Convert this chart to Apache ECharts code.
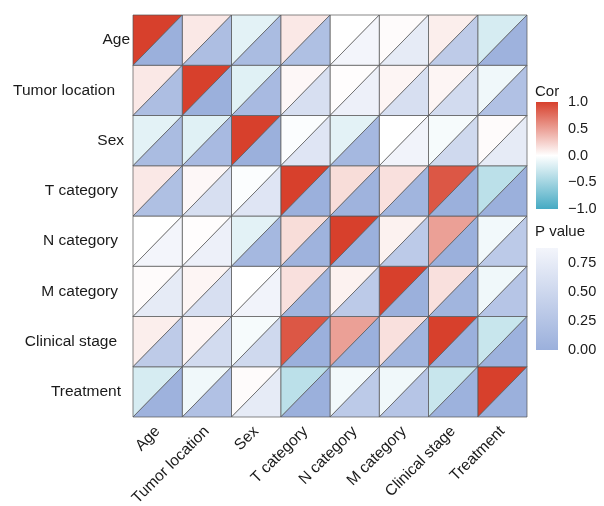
<!DOCTYPE html>
<html>
<head>
<meta charset="utf-8">
<script src="https://cdn.jsdelivr.net/npm/echarts@6/dist/echarts.min.js"></script>
<style>
  html, body { margin: 0; padding: 0; background: #fff; }
  #main { width: 604px; height: 506px; }
</style>
</head>
<body>
<div id="main"></div>
<script>
// variables, same order on both axes
var labels = ['Age', 'Tumor location', 'Sex', 'T category', 'N category', 'M category', 'Clinical stage', 'Treatment'];

// correlation (upper-left triangle)
var corAge       = [1, 0.12, -0.15, 0.12, 0.00, 0.02, 0.09, -0.22];
var corTumor     = [0.12, 1, -0.17, 0.04, 0.01, 0.05, 0.05, -0.08];
var corSex       = [-0.15, -0.17, 1, -0.02, -0.15, 0.00, -0.05, 0.02];
var corT         = [0.12, 0.04, -0.02, 1, 0.18, 0.16, 0.88, -0.37];
var corN         = [0.00, 0.01, -0.15, 0.18, 1, 0.07, 0.50, -0.07];
var corM         = [0.02, 0.05, 0.00, 0.16, 0.07, 1, 0.16, -0.08];
var corClinical  = [0.09, 0.05, -0.05, 0.88, 0.50, 0.16, 1, -0.30];
var corTreatment = [-0.22, -0.08, 0.02, -0.37, -0.07, -0.08, -0.30, 1];

// p value (lower-right triangle)
var pAge       = [0, 0.18, 0.15, 0.20, 0.88, 0.75, 0.35, 0.03];
var pTumor     = [0.18, 0, 0.13, 0.60, 0.82, 0.60, 0.55, 0.22];
var pSex       = [0.15, 0.13, 0, 0.68, 0.10, 0.86, 0.52, 0.75];
var pT         = [0.20, 0.60, 0.68, 0, 0.04, 0.06, 0, 0];
var pN         = [0.88, 0.82, 0.10, 0.04, 0, 0.33, 0, 0.33];
var pM         = [0.75, 0.60, 0.86, 0.06, 0.33, 0, 0.06, 0.27];
var pClinical  = [0.35, 0.55, 0.52, 0, 0, 0.06, 0, 0.02];
var pTreatment = [0.03, 0.22, 0.75, 0, 0.33, 0.27, 0.02, 0];

var corTicks = [-1, -0.5, 0, 0.5, 1];
var pTicks = [0, 0.25, 0.5, 0.75];
var pMax = 0.88;

var corRows = [corAge, corTumor, corSex, corT, corN, corM, corClinical, corTreatment];
var pRows = [pAge, pTumor, pSex, pT, pN, pM, pClinical, pTreatment];

var corData = [], pData = [];
for (var i = 0; i < labels.length; i++) {
    for (var j = 0; j < labels.length; j++) {
        corData.push([j, i, corRows[i][j]]);
        pData.push([j, i, pRows[i][j]]);
    }
}

var font = 'Liberation Sans, Arial, sans-serif';
var txt = '#1a1a1a';
var cellStroke = '#555555';

function cellBox(api) {
    var c = api.coord([api.value(0), api.value(1)]);
    var s = api.size([1, 1]);
    return { x0: c[0] - s[0] / 2, x1: c[0] + s[0] / 2, y0: c[1] - s[1] / 2, y1: c[1] + s[1] / 2 };
}

function renderCor(params, api) {
    var b = cellBox(api);
    return {
        type: 'polygon',
        shape: { points: [[b.x0, b.y0], [b.x1, b.y0], [b.x0, b.y1]] },
        style: { fill: api.visual('color'), stroke: cellStroke, lineWidth: 0.7 }
    };
}

function renderP(params, api) {
    var b = cellBox(api);
    return {
        type: 'polygon',
        shape: { points: [[b.x1, b.y0], [b.x1, b.y1], [b.x0, b.y1]] },
        style: { fill: api.visual('color'), stroke: cellStroke, lineWidth: 0.7 }
    };
}

// y labels in the original are not all flush right
var yPad = [0, 15, 6, 12, 12, 12, 13, 9];
var yRich = {};
yPad.forEach(function (p, k) {
    yRich['p' + k] = { padding: [0, p, 0, 0], fontSize: 15.5, color: txt, fontFamily: font };
});

var corGrad = new echarts.graphic.LinearGradient(0, 0, 0, 1, [
    { offset: 0, color: '#D7402C' },
    { offset: 0.5, color: '#FFFFFF' },
    { offset: 1, color: '#46AAC3' }
]);
var pGrad = new echarts.graphic.LinearGradient(0, 0, 0, 1, [
    { offset: 0, color: '#F3F5FB' },
    { offset: 1, color: '#9BB0DC' }
]);

var dom = document.getElementById('main');
var myChart = echarts.init(dom);
var option = {
    backgroundColor: '#fff',
    animation: false,
    textStyle: { fontFamily: font },
    title: [
        { text: 'Cor', left: 535, top: 84, padding: 0, textStyle: { fontSize: 15, fontWeight: 'normal', color: txt, fontFamily: font } },
        { text: 'P value', left: 535, top: 224, padding: 0, textStyle: { fontSize: 15, fontWeight: 'normal', color: txt, fontFamily: font } }
    ],
    grid: [
        { left: 133, top: 15, width: 394, height: 402, outerBoundsMode: 'none' },
        { left: 536, top: 102, width: 22, height: 107, show: true, backgroundColor: corGrad, borderWidth: 0, outerBoundsMode: 'none' },
        { left: 536, top: 248, width: 22, height: 102, show: true, backgroundColor: pGrad, borderWidth: 0, outerBoundsMode: 'none' }
    ],
    xAxis: [
        {
            type: 'category', gridIndex: 0, data: labels,
            axisLine: { show: false }, axisTick: { show: false }, splitLine: { show: false },
            axisLabel: { rotate: 45, margin: 12, fontSize: 15.5, color: txt, fontFamily: font, interval: 0 }
        },
        { type: 'value', gridIndex: 1, show: false },
        { type: 'value', gridIndex: 2, show: false }
    ],
    yAxis: [
        {
            type: 'category', gridIndex: 0, data: labels, inverse: true,
            axisLine: { show: false }, axisTick: { show: false }, splitLine: { show: false },
            axisLabel: {
                margin: 3, interval: 0,
                formatter: function (v, k) { return '{p' + k + '|' + v + '}'; },
                rich: yRich
            }
        },
        {
            type: 'value', gridIndex: 1, position: 'right', min: -1, max: 1, interval: 0.5,
            axisLine: { show: false }, splitLine: { show: false },
            axisTick: { show: true, inside: true, length: 4, lineStyle: { color: '#fff', width: 1 } },
            axisLabel: {
                margin: 10, fontSize: 14.5, color: txt, fontFamily: font,
                formatter: function (v) {
                    if (corTicks.indexOf(v) < 0) return '';
                    return (v < 0 ? '\u2212' : '') + Math.abs(v).toFixed(1);
                }
            }
        },
        {
            type: 'value', gridIndex: 2, position: 'right', min: 0, max: pMax, interval: 0.25,
            axisLine: { show: false }, splitLine: { show: false },
            axisTick: { show: true, inside: true, length: 4, lineStyle: { color: '#fff', width: 1 } },
            axisLabel: {
                margin: 10, fontSize: 14.5, color: txt, fontFamily: font, showMaxLabel: false,
                formatter: function (v) {
                    return pTicks.indexOf(Math.round(v * 100) / 100) < 0 ? '' : v.toFixed(2);
                }
            }
        }
    ],
    visualMap: [
        {
            show: false, type: 'continuous', seriesIndex: 0, dimension: 2, min: -1, max: 1,
            inRange: { color: ['#46AAC3', '#FFFFFF', '#D7402C'] }
        },
        {
            show: false, type: 'continuous', seriesIndex: 1, dimension: 2, min: 0, max: pMax,
            inRange: { color: ['#9BB0DC', '#F3F5FB'] }
        }
    ],
    series: [
        { type: 'custom', name: 'Cor', xAxisIndex: 0, yAxisIndex: 0, renderItem: renderCor, data: corData, encode: { x: 0, y: 1 } },
        { type: 'custom', name: 'P value', xAxisIndex: 0, yAxisIndex: 0, renderItem: renderP, data: pData, encode: { x: 0, y: 1 } }
    ]
};
myChart.setOption(option);
</script>
</body>
</html>
